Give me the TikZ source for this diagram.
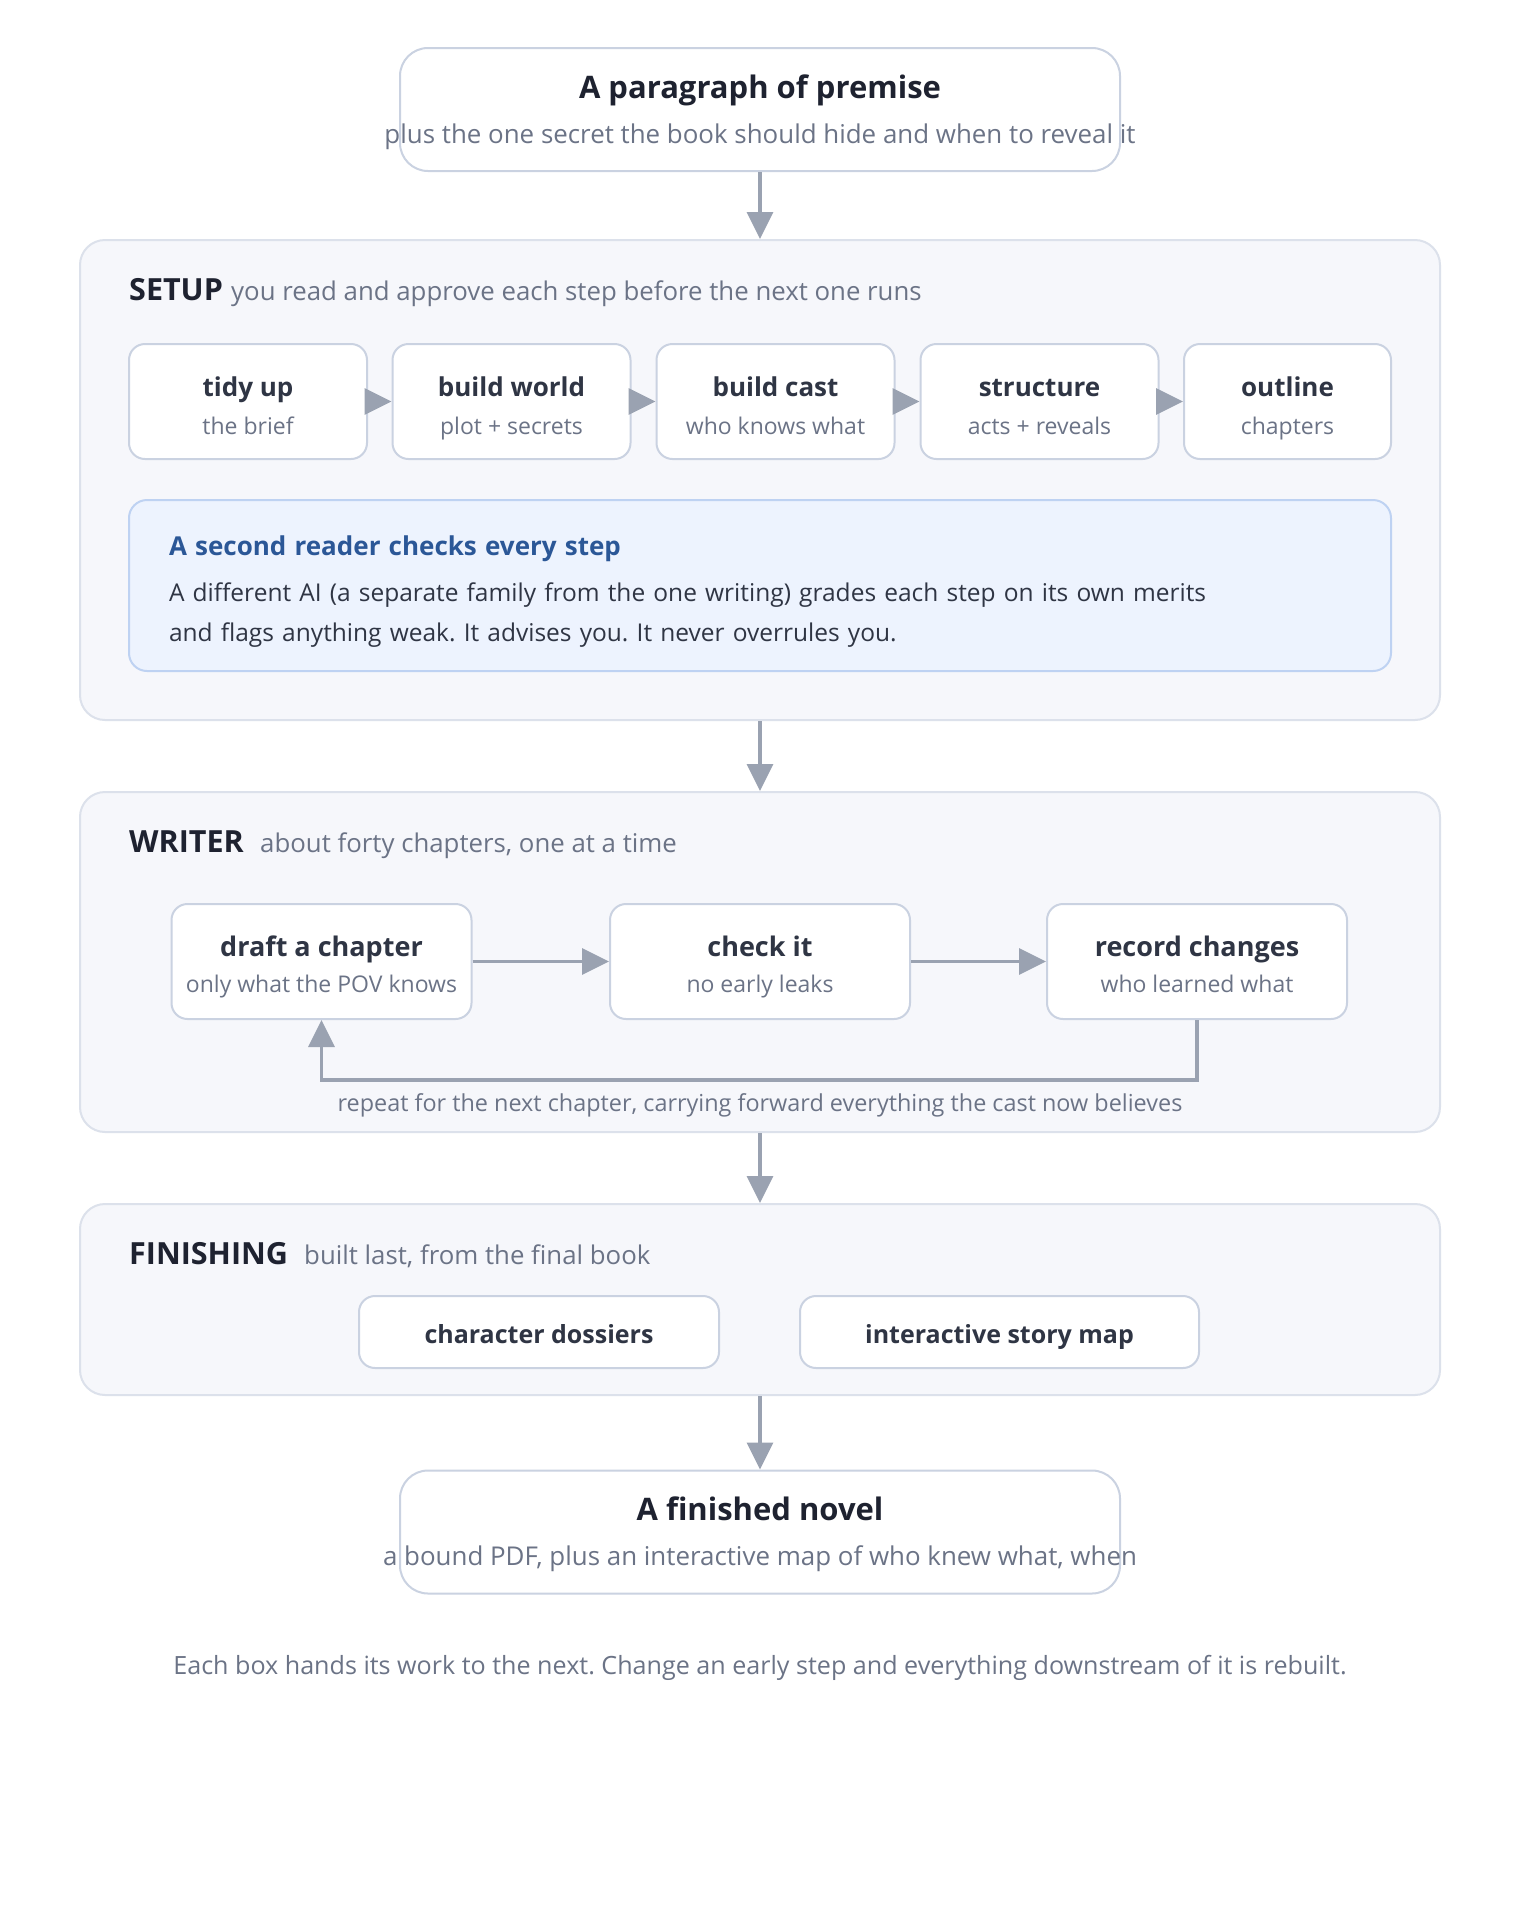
\documentclass[tikz,border=0pt]{standalone}
\usepackage{fontspec}
\setmainfont{Open Sans}
\usepackage{xcolor}
\usetikzlibrary{positioning, arrows.meta}
\frenchspacing
\definecolor{ink}{HTML}{1E2230}
\definecolor{inksoft}{HTML}{2F3544}
\definecolor{muted}{HTML}{6B7386}
\definecolor{edge}{HTML}{CAD2E1}
\definecolor{panelbg}{HTML}{F6F7FB}
\definecolor{paneledge}{HTML}{DCE1EB}
\definecolor{notebg}{HTML}{EDF3FE}
\definecolor{noteedge}{HTML}{BED2F2}
\definecolor{notehead}{HTML}{2B5797}
\definecolor{flowgray}{HTML}{9AA2B1}
\newcommand{\fsz}[2]{\fontsize{#1}{#2}\selectfont}
\newcommand{\bigtitle}[1]{{\fsz{31}{45}\bfseries\color{ink}#1}}
\newcommand{\steptitle}[1]{{\fsz{26}{38}\bfseries\color{inksoft}#1}}
\newcommand{\chaptitle}[1]{{\fsz{27}{36}\bfseries\color{inksoft}#1}}

\begin{document}
\begin{tikzpicture}[x=1pt, y=-1pt,
  panel/.style={draw=paneledge, line width=2pt, fill=panelbg, rounded corners=25pt, minimum width=1360pt, inner sep=0pt},
  endbox/.style={draw=edge, line width=2pt, fill=white, rounded corners=28pt, minimum width=720pt, minimum height=123pt, inner sep=0pt, text height=67.5pt, text depth=0pt, align=center, font=\fsz{25.9}{45}\color{muted}},
  stepbox/.style={draw=edge, line width=2pt, fill=white, rounded corners=16pt, minimum width=238pt, minimum height=115pt, inner sep=0pt, text height=65pt, text depth=0pt, align=center, font=\fsz{23}{38}\color{muted}},
  writebox/.style={stepbox, minimum width=300pt, text height=61pt, font=\fsz{23}{36}\color{muted}},
  extrabox/.style={stepbox, minimum height=72pt, text height=22pt, font=\fsz{25}{30}\bfseries\color{inksoft}},
  notebox/.style={draw=noteedge, line width=2pt, fill=notebg, rounded corners=18pt, minimum width=1262pt, minimum height=171pt, inner xsep=40pt, inner ysep=0pt, text width=1182pt, text height=20pt, text depth=79.6pt, align=left, font=\fsz{24.5}{40}\color{inksoft}},
  paneltitle/.style={anchor=base west, inner sep=0pt, font=\fsz{30.5}{30}\bfseries\color{ink}},
  panelnote/.style={anchor=base west, inner sep=0pt, font=\fsz{25.8}{30}\color{muted}},
  loopnote/.style={anchor=base, inner sep=0pt, font=\fsz{23.4}{24}\color{muted}},
  flow/.style={-{Triangle[length=27pt,width=26pt]}, line width=3.5pt, draw=flowgray}
]
  \fill[white] (0,0) rectangle (1520,1920);
  \useasboundingbox (0,0) rectangle (1520,1920);

  % input
  \node[endbox] (premise) at (760,109.5) {\bigtitle{A paragraph of premise}\\\makebox[0pt]{plus the one secret the book should hide and when to reveal it}};

  % setup stage
  \node[panel, minimum height=480pt] (setup) at (760,480) {};
  \node[paneltitle] (setuplabel) at (129,300) {SETUP};
  \node[panelnote] (setupnote) at (231,300) {you read and approve each step before the next one runs};
  \node[stepbox] (tidy) at (248,401.5) {\steptitle{tidy up}\\the brief};
  \node[stepbox] (world) at (511.5,401.5) {\steptitle{build world}\\plot + secrets};
  \node[stepbox] (cast) at (775.5,401.5) {\steptitle{build cast}\\who knows what};
  \node[stepbox] (struct) at (1039.5,401.5) {\steptitle{structure}\\acts + reveals};
  \node[stepbox, minimum width=207pt] (outline) at (1287.5,401.5) {\steptitle{outline}\\chapters};
  \node[notebox] (review) at (760,585.5) {{\fsz{26}{40}\bfseries\color{notehead}A second reader checks every step}\\[6pt]
    A different AI (a separate family from the one writing) grades each step on its own merits\\
    and flags anything weak. It advises you. It never overrules you.};

  % writer stage
  \node[panel, minimum height=340pt] (writer) at (760,962) {};
  \node[paneltitle] (writerlabel) at (129,852) {WRITER};
  \node[panelnote] (writernote) at (260,852) {about forty chapters, one at a time};
  \node[writebox] (draft) at (321.5,961.5) {\chaptitle{draft a chapter}\\only what the POV knows};
  \node[writebox] (check) at (760,961.5) {\chaptitle{check it}\\no early leaks};
  \node[writebox] (record) at (1197,961.5) {\chaptitle{record changes}\\who learned what};
  \node[loopnote] (looplabel) at (760,1111) {repeat for the next chapter, carrying forward everything the cast now believes};

  % finishing stage
  \node[panel, minimum height=191pt] (finish) at (760,1299.5) {};
  \node[paneltitle] (finishlabel) at (129,1264) {FINISHING};
  \node[panelnote] (finishnote) at (304,1264) {built last, from the final book};
  \node[extrabox, minimum width=360pt] (dossier) at (539,1332) {character dossiers};
  \node[extrabox, minimum width=399pt] (storymap) at (999.5,1332) {interactive story map};

  % output
  \node[endbox] (novel) at (760,1532) {\bigtitle{A finished novel}\\\makebox[0pt]{a bound PDF, plus an interactive map of who knew what, when}};
  \node[anchor=base, inner sep=0pt, font=\fsz{25.1}{24}\color{muted}] (footer) at (760,1674) {Each box hands its work to the next. Change an early step and everything downstream of it is rebuilt.};

  \draw[flow] (premise) -- (setup);
  \draw[flow] (tidy) -- (world);
  \draw[flow] (world) -- (cast);
  \draw[flow] (cast) -- (struct);
  \draw[flow] (struct) -- (outline);
  \draw[flow] (setup) -- (writer);
  \draw[flow] (draft) -- (check);
  \draw[flow] (check) -- (record);
  \draw[flow] (record.south) -- ++(0,60) -| (draft.south);
  \draw[flow] (writer) -- (finish);
  \draw[flow] (finish) -- (novel);
\end{tikzpicture}
\end{document}
